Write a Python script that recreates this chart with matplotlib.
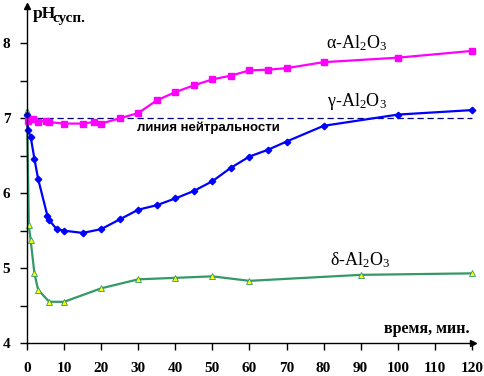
import matplotlib
matplotlib.use("Agg")
import matplotlib.pyplot as plt

# time, min
alpha_t = [0.3, 1.5, 3, 5, 6, 10, 15, 18, 20, 25, 30, 35, 40, 45, 50, 55, 60, 65, 70, 80, 100, 120]
alpha_ph = [6.96, 6.99, 6.95, 6.97, 6.95, 6.93, 6.93, 6.95, 6.93, 7.0, 7.07, 7.24, 7.35, 7.44,
            7.52, 7.57, 7.64, 7.65, 7.67, 7.75, 7.81, 7.9]

gamma_t = [0, 0.3, 1, 2, 3, 5.5, 6, 8, 10, 15, 20, 25, 30, 35, 40, 45, 50, 55, 60, 65, 70, 80, 100, 120]
gamma_ph = [7.05, 6.84, 6.75, 6.46, 6.19, 5.7, 5.64, 5.52, 5.5, 5.47, 5.52, 5.65, 5.78, 5.84,
            5.93, 6.03, 6.16, 6.34, 6.49, 6.58, 6.69, 6.9, 7.05, 7.11]

delta_t = [0, 0.5, 1, 2, 3, 6, 10, 20, 30, 40, 50, 60, 90, 120]
delta_ph = [7.1, 5.57, 5.37, 4.93, 4.71, 4.55, 4.55, 4.73, 4.85, 4.87, 4.89, 4.83, 4.91, 4.93]

xticks = list(range(0, 121, 10))
yticks = [4, 5, 6, 7, 8]
neutral_ph = 7

plt.rcParams['mathtext.fontset'] = 'custom'
plt.rcParams['mathtext.rm'] = 'Liberation Serif'
plt.rcParams['mathtext.it'] = 'Liberation Serif:italic'

fig = plt.figure(figsize=(4.85, 3.76), dpi=100)
ax = fig.add_axes([27 / 485, 33 / 376, 446 / 485, 337 / 376])

ax.plot([0, 120], [neutral_ph, neutral_ph], color='#000080', lw=0.9, ls=(0, (5, 3)))

ax.plot(delta_t, delta_ph, color='#339966', lw=1.6, marker='^', ms=5,
        mfc='#FFFF00', mec='#339966', mew=0.6, clip_on=False)
ax.plot(gamma_t, gamma_ph, color='#0000FF', lw=1.6, marker='D', ms=3.3,
        mfc='#0000FF', mec='#0000FF', clip_on=False)
ax.plot(alpha_t, alpha_ph, color='#FF00FF', lw=1.6, marker='s', ms=4,
        mfc='#FF00FF', mec='#FF00FF', clip_on=False)

ax.set_xlim(0, 120.3)
ax.set_ylim(4, 8.5)
ax.set_xticks(xticks)
ax.set_yticks(yticks)
ax.set_yticks([4.5, 5.5, 6.5, 7.5], minor=True)
for s in ['top', 'right']:
    ax.spines[s].set_visible(False)
for s in ['left', 'bottom']:
    ax.spines[s].set_linewidth(1.0)
ax.tick_params(axis='both', direction='out', length=5, width=1, labelsize=11)
ax.tick_params(axis='y', which='minor', direction='out', length=5, width=1)
ax.tick_params(axis='x', pad=9)
ax.tick_params(axis='y', pad=7)
for lab in ax.get_xticklabels() + ax.get_yticklabels():
    lab.set_fontfamily('Liberation Serif')
    lab.set_fontweight('bold')

# axis arrows
ax.plot(1, 0, '>k', ms=5, transform=ax.transAxes, clip_on=False)
ax.plot(0, 1, '^k', ms=5, transform=ax.transAxes, clip_on=False)

serif = dict(fontfamily='Liberation Serif', fontsize=13)
ax.text(89, 8.01, r'$\mathrm{\alpha}$-Al$_2$O$_3$', ha='center', va='center', **serif)
ax.text(89, 7.23, r'$\mathrm{\gamma}$-Al$_2$O$_3$', ha='center', va='center', **serif)
ax.text(90, 5.1, r'$\mathrm{\delta}$-Al$_2$O$_3$', ha='center', va='center', **serif)

ax.text(49, 6.83, 'линия нейтральности', ha='center', va='baseline',
        fontfamily='Liberation Sans', fontweight='bold', fontsize=9.5)

fig.text(33 / 485, 1 - 18 / 376, 'pH', ha='left', va='baseline',
         fontfamily='Liberation Serif', fontweight='bold', fontsize=12.5)
fig.text(53 / 485, 1 - 22 / 376, 'сусп.', ha='left', va='baseline',
         fontfamily='Liberation Serif', fontweight='bold', fontsize=11)
fig.text(470 / 485, 1 - 333 / 376, 'время, мин.', ha='right', va='baseline',
         fontfamily='Liberation Serif', fontweight='bold', fontsize=11.5)

fig.savefig('out.png', dpi=100)
